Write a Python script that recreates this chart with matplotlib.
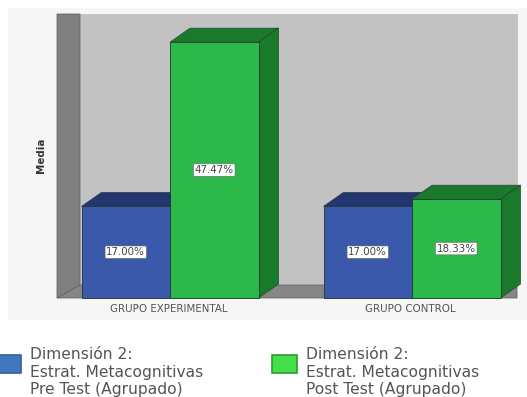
import matplotlib
matplotlib.use('Agg')
import matplotlib.pyplot as plt
from matplotlib.patches import Polygon, Rectangle

groups = ['GRUPO EXPERIMENTAL', 'GRUPO CONTROL']
pre_test = [17.00, 17.00]
post_test = [47.47, 18.33]
legend_pre = 'Dimensión 2:\nEstrat. Metacognitivas\nPre Test (Agrupado)'
legend_post = 'Dimensión 2:\nEstrat. Metacognitivas\nPost Test (Agrupado)'

W, H = 527, 397
GROUP_PX = 242.0   # pixels between group centres
VALUE_PX = 5.39    # pixels per percentage point
X0_PX, Y0_PX = 170, 298
BAR_W = 88.5 / GROUP_PX
DX = 20 / GROUP_PX
DY = 14 / VALUE_PX

plt.rcParams['font.family'] = ['DejaVu Sans']
fig = plt.figure(figsize=(W / 100, H / 100), dpi=100, facecolor='white')
ax = fig.add_axes([0, 0, 1, 1])
ax.set_xlim(-X0_PX / GROUP_PX, (W - X0_PX) / GROUP_PX)
ax.set_ylim(-(H - Y0_PX) / VALUE_PX, Y0_PX / VALUE_PX)
ax.axis('off')


def px(x, y):
    return (x - X0_PX) / GROUP_PX, (Y0_PX - y) / VALUE_PX


def poly(points, color, z=1, edge=None):
    ax.add_patch(Polygon([px(*p) for p in points], closed=True, facecolor=color,
                         edgecolor=edge or color, linewidth=0.6, zorder=z))


def draw_bar(left, value, front, dark, z):
    right = left + BAR_W
    ax.add_patch(Polygon([(left, value), (left + DX, value + DY), (right + DX, value + DY), (right, value)],
                         closed=True, facecolor=dark, edgecolor='#333d50', linewidth=0.5, zorder=z))
    ax.add_patch(Polygon([(right, 0), (right + DX, DY), (right + DX, value + DY), (right, value)],
                         closed=True, facecolor=dark, edgecolor='#1c4a26', linewidth=0.5, zorder=z))
    ax.bar(left, value, BAR_W, align='edge', color=front, edgecolor='#1c3a30', linewidth=0.6, zorder=z + 0.5)
    ax.text(left + BAR_W / 2, value / 2, f'{value:.2f}%', ha='center', va='center', fontsize=7.4,
            color='#444444', zorder=z + 1,
            bbox=dict(boxstyle='round,pad=0.12', facecolor='white', edgecolor='#666666', linewidth=0.4))


# panel and the three walls of the 3D box
ax.add_patch(Rectangle(px(8, 320), 519 / GROUP_PX, 312 / VALUE_PX, facecolor='#f6f6f6', edgecolor='none', zorder=0))
poly([(80, 14), (517, 14), (517, 285), (80, 285)], '#c2c2c2', 1)
poly([(57, 14), (80, 14), (80, 285), (57, 298)], '#808080', 2, '#666666')
poly([(57, 298), (80, 285), (517, 285), (517, 298)], '#868686', 2, '#666666')

for i in range(len(groups)):
    draw_bar(i - BAR_W, pre_test[i], '#3b59ab', '#22356f', 3 + i)
    draw_bar(i, post_test[i], '#2db84a', '#1a7a2c', 3.2 + i)
    ax.text(i - 0.005, (Y0_PX - 308.5) / VALUE_PX, groups[i], ha='center', va='center',
            fontsize=7.4, color='#555555')

ax.text(*px(41, 155), 'Media', rotation=90, ha='center', va='center', fontsize=7.4,
        fontweight='bold', color='#333333')

# legend
for x, w, color, edge, label, tx in [(-3, 24, '#3f78bf', '#2f5f9a', legend_pre, 30),
                                     (272, 25, '#44e04c', '#2a9a30', legend_post, 306)]:
    ax.add_patch(Rectangle(px(x, 373), w / GROUP_PX, 18 / VALUE_PX, facecolor=color,
                           edgecolor=edge, linewidth=1.2, zorder=2))
    ax.text(*px(tx, 372), label, ha='left', va='center', fontsize=11.2, color='#555555', linespacing=1.17)

fig.savefig('out.png', dpi=100)
